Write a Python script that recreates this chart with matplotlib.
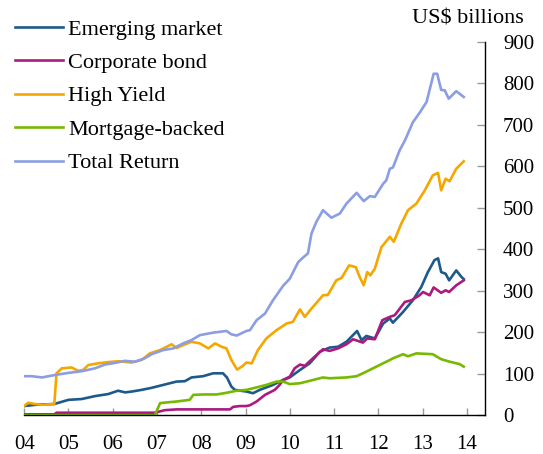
import matplotlib
matplotlib.use("Agg")
import matplotlib.pyplot as plt

plt.rcParams['font.family'] = ['Liberation Serif', 'DejaVu Serif']

# ---- data (US$ billions) ----
em_years = [2004.00, 2004.24, 2004.68, 2005.00, 2005.30, 2005.60, 2005.90, 2006.12, 2006.28, 2006.43,
            2006.65, 2006.88, 2007.14, 2007.44, 2007.63, 2007.78, 2008.04, 2008.27, 2008.49, 2008.58,
            2008.68, 2008.76, 2009.02, 2009.17, 2009.32, 2009.62, 2009.85, 2010.00, 2010.23, 2010.45,
            2010.68, 2010.90, 2011.09, 2011.28, 2011.52, 2011.62, 2011.73, 2011.92, 2012.11, 2012.26,
            2012.33, 2012.56, 2012.78, 2012.97, 2013.12, 2013.27, 2013.35, 2013.42, 2013.52, 2013.60,
            2013.76, 2013.88, 2013.93]
em_values = [22, 25, 27, 37, 39, 46, 51, 59, 55, 57,
             61, 66, 73, 81, 82, 91, 94, 101, 101, 91,
             69, 61, 57, 53, 61, 73, 85, 91, 109, 125,
             153, 163, 165, 177, 203, 181, 191, 185, 221, 233,
             223, 249, 277, 309, 345, 374, 378, 345, 341, 325,
             349, 333, 328]

cb_years = [2004.00, 2004.68, 2004.73, 2006.95, 2007.17, 2007.44, 2008.65, 2008.72, 2008.87, 2009.02,
            2009.10, 2009.25, 2009.44, 2009.66, 2009.77, 2009.85, 2010.00, 2010.11, 2010.23, 2010.34,
            2010.49, 2010.75, 2010.90, 2011.09, 2011.28, 2011.43, 2011.54, 2011.65, 2011.75, 2011.92,
            2012.09, 2012.26, 2012.37, 2012.60, 2012.75, 2012.93, 2013.01, 2013.16, 2013.25, 2013.42,
            2013.52, 2013.60, 2013.76, 2013.93]
cb_values = [2, 2, 6, 6, 12, 14, 14, 20, 22, 22,
             24, 33, 49, 61, 73, 85, 93, 113, 122, 119,
             134, 159, 155, 161, 171, 183, 179, 175, 185, 183,
             229, 237, 241, 273, 277, 289, 297, 289, 308, 295,
             301, 297, 313, 325]

hy_years = [2004.00, 2004.09, 2004.24, 2004.40, 2004.68, 2004.73, 2004.85, 2005.07, 2005.22, 2005.33,
            2005.45, 2005.67, 2005.90, 2006.12, 2006.43, 2006.65, 2006.84, 2007.07, 2007.33, 2007.44,
            2007.59, 2007.78, 2007.97, 2008.16, 2008.31, 2008.46, 2008.57, 2008.68, 2008.81, 2008.93,
            2009.02, 2009.14, 2009.28, 2009.47, 2009.70, 2009.93, 2010.07, 2010.23, 2010.34, 2010.49,
            2010.75, 2010.86, 2011.05, 2011.17, 2011.34, 2011.49, 2011.58, 2011.67, 2011.75, 2011.82,
            2011.92, 2012.07, 2012.26, 2012.35, 2012.52, 2012.67, 2012.86, 2013.05, 2013.23, 2013.35,
            2013.42, 2013.52, 2013.61, 2013.76, 2013.93]
hy_values = [22, 30, 27, 25, 27, 101, 113, 115, 107, 109,
             121, 125, 128, 130, 127, 133, 149, 157, 171, 162,
             169, 177, 173, 161, 173, 165, 161, 133, 110, 118,
             127, 125, 157, 185, 205, 221, 225, 255, 237, 257,
             289, 290, 325, 331, 361, 357, 333, 313, 345, 337,
             353, 405, 430, 418, 462, 494, 510, 542, 578, 584,
             542, 570, 564, 594, 612]

mb_years = [2004.00, 2006.95, 2007.07, 2007.14, 2007.44, 2007.74, 2007.82, 2008.04, 2008.35, 2008.57,
            2008.80, 2009.02, 2009.25, 2009.47, 2009.70, 2009.85, 2010.00, 2010.23, 2010.53, 2010.75,
            2010.90, 2011.28, 2011.51, 2011.73, 2012.03, 2012.26, 2012.33, 2012.56, 2012.67, 2012.86,
            2013.23, 2013.42, 2013.61, 2013.84, 2013.93]
mb_values = [0, 0, 29, 30, 33, 37, 49, 50, 50, 54,
             59, 61, 67, 73, 81, 81, 75, 77, 85, 91,
             89, 91, 94, 105, 121, 133, 137, 147, 142, 149,
             147, 135, 129, 123, 117]

tr_years = [2004.00, 2004.17, 2004.40, 2004.70, 2005.00, 2005.30, 2005.60, 2005.82, 2006.05, 2006.27,
            2006.50, 2006.72, 2006.88, 2007.14, 2007.37, 2007.59, 2007.78, 2007.97, 2008.27, 2008.57,
            2008.68, 2008.80, 2009.02, 2009.10, 2009.25, 2009.44, 2009.62, 2009.85, 2010.00, 2010.19,
            2010.30, 2010.41, 2010.49, 2010.60, 2010.75, 2010.94, 2011.13, 2011.28, 2011.51, 2011.67,
            2011.81, 2011.92, 2012.11, 2012.18, 2012.26, 2012.33, 2012.48, 2012.60, 2012.78, 2012.94,
            2013.09, 2013.25, 2013.33, 2013.42, 2013.50, 2013.59, 2013.76, 2013.93]
tr_values = [94, 94, 91, 97, 102, 106, 113, 122, 126, 131,
             129, 137, 147, 157, 161, 173, 181, 193, 199, 203,
             195, 192, 203, 205, 229, 245, 277, 312, 329, 369,
             380, 390, 438, 466, 494, 476, 486, 510, 536, 516,
             528, 526, 558, 566, 594, 597, 638, 662, 706, 730,
             755, 823, 823, 784, 783, 763, 781, 767]

series_names = ["Emerging market", "Corporate bond", "High Yield", "Mortgage-backed", "Total Return"]
series_colors = ["#1d5a8a", "#ad1a7f", "#f5a700", "#77b900", "#8b9ee3"]

x_ticks = [2004, 2005, 2006, 2007, 2008, 2009, 2010, 2011, 2012, 2013, 2014]
x_tick_labels = ["04", "05", "06", "07", "08", "09", "10", "11", "12", "13", "14"]
y_ticks = [0, 100, 200, 300, 400, 500, 600, 700, 800, 900]
unit_label = "US$ billions"

# ---- figure ----
fig = plt.figure(figsize=(5.43, 4.54), dpi=100)
ax = fig.add_axes([24.2 / 543, 1 - 415.2 / 454, (485 - 24.2) / 543, (415.2 - 41.8) / 454])

all_x = [em_years, cb_years, hy_years, mb_years, tr_years]
all_y = [em_values, cb_values, hy_values, mb_values, tr_values]
for xs, ys, name, col in zip(all_x, all_y, series_names, series_colors):
    ax.plot(xs, ys, color=col, lw=1.9, label=name, solid_joinstyle='round')

ax.set_xlim(2004, 2014.41)
ax.set_ylim(0, 900)

for s in ["left", "top"]:
    ax.spines[s].set_visible(False)
ax.spines["bottom"].set_color("black")
ax.spines["right"].set_color("black")
ax.spines["bottom"].set_linewidth(1.0)
ax.spines["right"].set_linewidth(1.0)

ax.set_xticks(x_ticks)
ax.set_xticklabels(x_tick_labels)
ax.set_yticks(y_ticks)
ax.set_yticklabels([str(v) for v in y_ticks])
ax.yaxis.tick_right()
ax.tick_params(axis="x", direction="in", length=5, color="#999999", width=1.0,
               labelsize=15, pad=14.5)
ax.tick_params(axis="y", direction="in", length=6, color="#999999", width=1.0,
               labelsize=15, pad=13, left=False, right=True)

fig.text(468 / 543, 1 - 23.5 / 454, unit_label, ha="center", va="baseline", fontsize=16)

leg = ax.legend(loc="upper left", bbox_to_anchor=(15 / 543, 1 - 19 / 454),
                bbox_transform=fig.transFigure, frameon=False, fontsize=16,
                handlelength=2.15, handletextpad=0.25, labelspacing=0.58,
                borderpad=0, borderaxespad=0)

fig.savefig("out.png", dpi=100)
